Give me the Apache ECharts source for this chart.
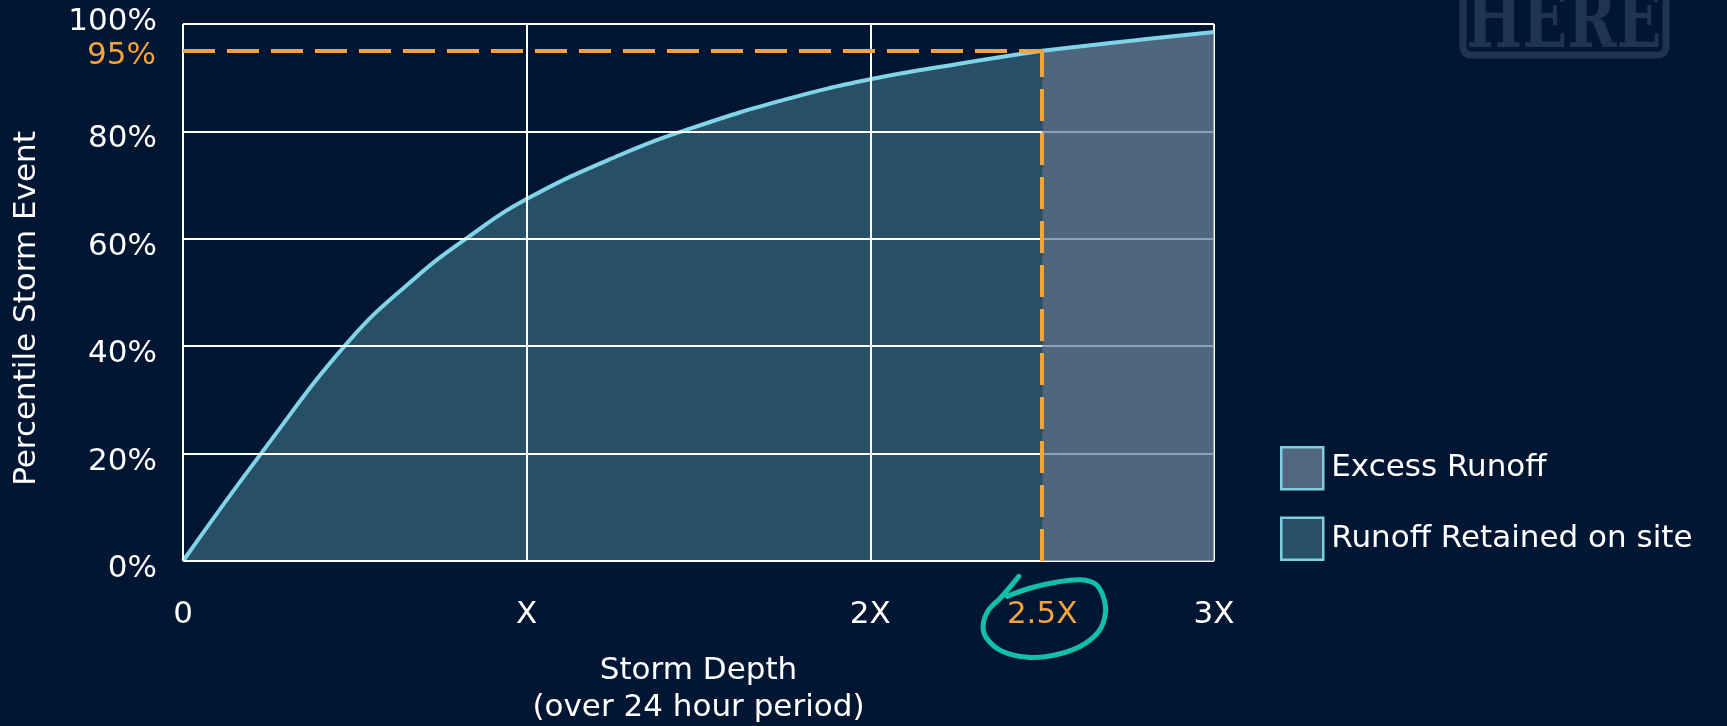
<!DOCTYPE html>
<html><head><meta charset="utf-8">
<script src="https://cdn.jsdelivr.net/npm/echarts@6/dist/echarts.min.js"></script>
<style>html,body{margin:0;padding:0;background:#011633;} #c{width:1727px;height:726px;}</style>
</head><body><div id="c"></div>
<script>
// ---- data ----
const retainedDepth = [0, 0.233, 0.482, 0.668, 0.825, 1.0, 1.271, 1.48, 1.756, 2.0, 2.25, 2.5];
const retainedPct   = [0, 20.5, 40.9, 52.3, 60.1, 67.4, 75.6, 80.6, 86.0, 89.7, 92.5, 95];
const excessDepth   = [2.5, 2.76, 3.0];
const excessPct     = [95, 96.9, 98.5];
const xTickLabels = ['0', 'X', '2X', '3X'];
const yTickLabels = ['0%', '20%', '40%', '60%', '80%', '100%'];
const designDepth = 2.5, designDepthLabel = '2.5X';
const designPct = 95, designPctLabel = '95%';
const seriesNames = ['Excess Runoff', 'Runoff Retained on site'];
const xAxisTitle = 'Storm Depth\n(over 24 hour period)';
const yAxisTitle = 'Percentile Storm Event';

// ---- style ----
const BG = '#011633', WHITE = '#ffffff', ORANGE = '#f5a33a', CURVE = '#80d4e8';
const TEAL = '#274f68', GRAY = '#516780', BORDER = '#7fcfe0', CIRCLE = '#13bead';
const FONT = 'DejaVu Sans', FS = 31;

const chart = echarts.init(document.getElementById('c'), null, {renderer: 'canvas'});
const zip = (a, b) => a.map((v, i) => [v, b[i]]);
const dash = {color: ORANGE, width: 4, type: [32, 12]};
const txt = {color: WHITE, fontSize: FS, fontFamily: FONT};

const option = {
  backgroundColor: BG,
  animation: false,
  textStyle: {fontFamily: FONT},
  grid: {left: 183, right: 513, top: 24, bottom: 165, containLabel: false, outerBoundsMode: 'none'},
  xAxis: {
    type: 'value', min: 0, max: 3, interval: 1, z: 3,
    axisLine: {show: false}, axisTick: {show: false},
    splitLine: {show: true, lineStyle: {color: WHITE, width: 2}},
    axisLabel: Object.assign({margin: 38, formatter: v => xTickLabels[Math.round(v)]}, txt),
    name: xAxisTitle, nameLocation: 'middle', nameGap: 91,
    nameTextStyle: Object.assign({lineHeight: 37}, txt)
  },
  yAxis: {
    type: 'value', min: 0, max: 100, interval: 20, z: 3,
    axisLine: {show: false}, axisTick: {show: false},
    splitLine: {show: true, lineStyle: {color: WHITE, width: 2}},
    axisLabel: Object.assign({margin: 26,
      formatter: v => {
        const s = yTickLabels[Math.round(v / 20)];
        return v >= 100 ? '{t|' + s + '}' : '{m|' + s + '}';
      },
      rich: {
        t: Object.assign({padding: [0, 0, 4, 0]}, txt),
        m: Object.assign({padding: [16, 0, 0, 0]}, txt)
      }}, txt),
    name: yAxisTitle, nameLocation: 'middle', nameGap: 141,
    nameTextStyle: Object.assign({padding: [0, 32, 0, 0]}, txt)
  },
  legend: {
    orient: 'vertical', left: 1280, top: 446, padding: 0,
    itemWidth: 42, itemHeight: 42, itemGap: 26,
    icon: 'rect', selectedMode: false,
    textStyle: Object.assign({padding: [0, 0, 0, 3]}, txt),
    data: [
      {name: seriesNames[0], itemStyle: {color: GRAY, borderColor: BORDER, borderWidth: 2.5}},
      {name: seriesNames[1], itemStyle: {color: TEAL, borderColor: BORDER, borderWidth: 2.5}}
    ]
  },
  series: [
    {
      name: seriesNames[1], type: 'line', z: 2, smooth: 0.45, symbol: 'none',
      data: zip(retainedDepth, retainedPct),
      lineStyle: {color: CURVE, width: 4},
      itemStyle: {color: TEAL},
      areaStyle: {color: TEAL, opacity: 1}
    },
    {
      name: seriesNames[0], type: 'line', z: 4, smooth: 0.45, symbol: 'none',
      data: zip(excessDepth, excessPct),
      lineStyle: {color: CURVE, width: 4},
      itemStyle: {color: GRAY},
      areaStyle: {color: '#6a829a', opacity: 0.75},
      markLine: {
        silent: true, symbol: ['none', 'none'], animation: false,
        lineStyle: dash,
        data: [
          [{coord: [0, designPct], lineStyle: dash,
            label: Object.assign({show: true, position: 'start', distance: 27,
              formatter: '{o|' + designPctLabel + '}',
              rich: {o: Object.assign({}, txt, {color: ORANGE, padding: [10, 0, 0, 0]})}},
              txt, {color: ORANGE})},
           {coord: [designDepth, designPct]}],
          [{coord: [designDepth, 0], lineStyle: dash,
            label: Object.assign({show: true, position: 'start', distance: 38, formatter: designDepthLabel},
              txt, {color: ORANGE})},
           {coord: [designDepth, designPct]}]
        ]
      }
    }
  ]
};
chart.setOption(option);

// hand-drawn circle around the 2.5X label (positioned from the axis scale)
const p = chart.convertToPixel({xAxisIndex: 0, yAxisIndex: 0}, [designDepth, 0]);
const loop = [[-35,37.3],[-11.7,29],[15,23],[38.3,20.7],[53.3,25],[61,37.3],[63.3,54],[56.7,72.3],
  [38.3,87.3],[11.7,96.3],[-14.7,98.3],[-40,92.3],[-55.7,79],[-59,65.7],[-53.3,50.7],[-41.7,39],[-23.3,17.3]]
  .map(d => [p[0] + d[0], p[1] + d[1] - 2]);
chart.setOption({
  graphic: [
    {type: 'polyline', silent: true, z: 10,
      shape: {points: loop, smooth: 0.35},
      style: {stroke: CIRCLE, lineWidth: 5, fill: null, lineCap: 'round', lineJoin: 'round'}},
    {type: 'group', x: 1564, y: 0, silent: true, children: [
      {type: 'rect', shape: {x: -101, y: -40, width: 203, height: 95, r: 8},
        style: {fill: null, stroke: '#1f3452', lineWidth: 7}},
      {type: 'text', x: 0, y: 26, scaleX: 0.74,
        style: {text: 'HERE', font: 'bold 80px "DejaVu Serif"', fill: '#1f3452',
          align: 'center', verticalAlign: 'middle'}}
    ]}
  ]
});
</script>
</body></html>
